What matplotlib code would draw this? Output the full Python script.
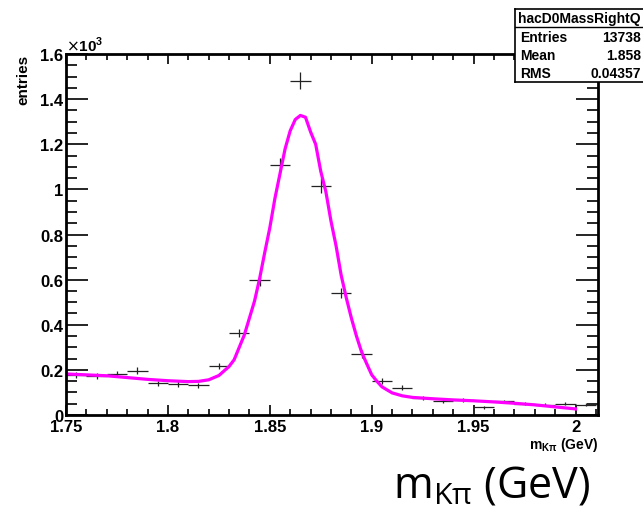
import numpy as np
import matplotlib
matplotlib.use('Agg')
import matplotlib.pyplot as plt
from matplotlib.ticker import MultipleLocator, FuncFormatter

# histogramm: bin centres (GeV) and contents (x10^3)
bin_centers = [1.755, 1.765, 1.775, 1.785, 1.795, 1.805, 1.815, 1.825, 1.835,
               1.845, 1.855, 1.865, 1.875, 1.885, 1.895, 1.905, 1.915, 1.925,
               1.935, 1.945, 1.955, 1.965, 1.975, 1.985, 1.995, 2.005]
counts = [0.178, 0.175, 0.180, 0.197, 0.140, 0.138, 0.132, 0.218, 0.363,
          0.598, 1.108, 1.482, 1.017, 0.540, 0.270, 0.150, 0.120, 0.075,
          0.062, 0.066, 0.034, 0.060, 0.050, 0.045, 0.050, 0.045]

# fit curve
fit_x = [1.750, 1.760, 1.770, 1.780, 1.790, 1.800, 1.810, 1.815, 1.820, 1.825,
         1.830, 1.8325, 1.835, 1.8375, 1.840, 1.8425, 1.845, 1.8475, 1.850,
         1.8525, 1.855, 1.8575, 1.860, 1.8625, 1.865, 1.8675, 1.870, 1.8725,
         1.875, 1.8775, 1.880, 1.8825, 1.885, 1.8875, 1.890, 1.8925, 1.895,
         1.8975, 1.900, 1.9025, 1.905, 1.910, 1.915, 1.920, 1.930,
         1.940, 1.950, 1.960, 1.970, 1.980, 1.990, 2.000]
fit_y = [0.182, 0.178, 0.174, 0.166, 0.158, 0.152, 0.148, 0.149, 0.156, 0.175,
         0.215, 0.245, 0.300, 0.355, 0.430, 0.505, 0.605, 0.720, 0.830,
         0.960, 1.070, 1.180, 1.260, 1.310, 1.328, 1.320, 1.255, 1.200,
         1.080, 0.990, 0.860, 0.750, 0.620, 0.520, 0.430, 0.350, 0.280,
         0.228, 0.178, 0.150, 0.125, 0.098, 0.085, 0.078, 0.072,
         0.067, 0.063, 0.058, 0.052, 0.045, 0.036, 0.027]

stats_title = 'hacD0MassRightQ'
stats_names = ['Entries', 'Mean', 'RMS']
stats_values = ['13738', '1.858', '0.04357']

bold = dict(family='Liberation Sans', weight='bold')

fig = plt.figure(figsize=(6.43, 5.10), dpi=100)
ax = fig.add_axes([0.1026, 0.1843, 0.8274, 0.7077])

# erros = sqrt(N)
errs = np.sqrt(np.array(counts) * 1000) / 1000
ax.errorbar(bin_centers, counts, xerr=0.005, yerr=errs, fmt='none',
            ecolor='#222222', elinewidth=0.9, capsize=0)
ax.plot(fit_x, fit_y, color='#ff00ff', lw=2.3, solid_joinstyle='round')

ax.set_xlim(1.75, 2.011)
ax.set_ylim(0, 1.6)
ax.xaxis.set_major_locator(MultipleLocator(0.05))
ax.xaxis.set_minor_locator(MultipleLocator(0.01))
ax.yaxis.set_major_locator(MultipleLocator(0.2))
ax.yaxis.set_minor_locator(MultipleLocator(0.05))
ax.xaxis.set_major_formatter(FuncFormatter(lambda v, p: ('%.2f' % v).rstrip('0').rstrip('.')))
ax.yaxis.set_major_formatter(FuncFormatter(lambda v, p: ('%.1f' % v).rstrip('0').rstrip('.')))
ax.tick_params(which='both', direction='in', top=True, right=True, width=1.2)
ax.tick_params(axis='x', which='major', length=7, pad=3)
ax.tick_params(axis='x', which='minor', length=4)
ax.tick_params(axis='y', which='major', length=16, pad=2)
ax.tick_params(axis='y', which='minor', length=8)
for lab in ax.get_xticklabels() + ax.get_yticklabels():
    lab.set_fontproperties(bold)
    lab.set_fontsize(12)
for s in ax.spines.values():
    s.set_linewidth(2)

fig.text(0.103, 0.893, r'$\times$10$^{\mathregular{3}}$', fontsize=11, ha='left', va='bottom', **bold)
fig.text(0.036, 0.892, 'entries', rotation=90, ha='center', va='top', fontsize=11, **bold)
fig.text(0.93, 0.128, r'm$_{\mathregular{K\pi}}$ (GeV)', ha='right', va='center', fontsize=10, **bold)

# big label under the plot
fig.text(0.918, 0.025, r'm$_{\mathregular{K\pi}}$ (GeV)', ha='right', va='baseline',
         fontsize=31, family='Open Sans')

# stats box
x0 = 515 / 643
bx = fig.add_axes([x0, 1 - 83 / 510, 1 - x0 + 0.01, 73 / 510])
bx.set_xlim(0, 1)
bx.set_ylim(0, 1)
bx.set_xticks([])
bx.set_yticks([])
for s in bx.spines.values():
    s.set_linewidth(1.2)
bx.axhline(0.75, color='black', lw=1)
bx.text(0.02, 0.875, stats_title, ha='left', va='center', fontsize=10, **bold)
for i, (n, v) in enumerate(zip(stats_names, stats_values)):
    yy = 0.61 - i * 0.245
    bx.text(0.04, yy, n, ha='left', va='center', fontsize=10, **bold)
    bx.text(0.985 * (1 - x0) / (1 - x0 + 0.01), yy, v, ha='right', va='center', fontsize=10, **bold)

plt.savefig('out.png', dpi=100)
